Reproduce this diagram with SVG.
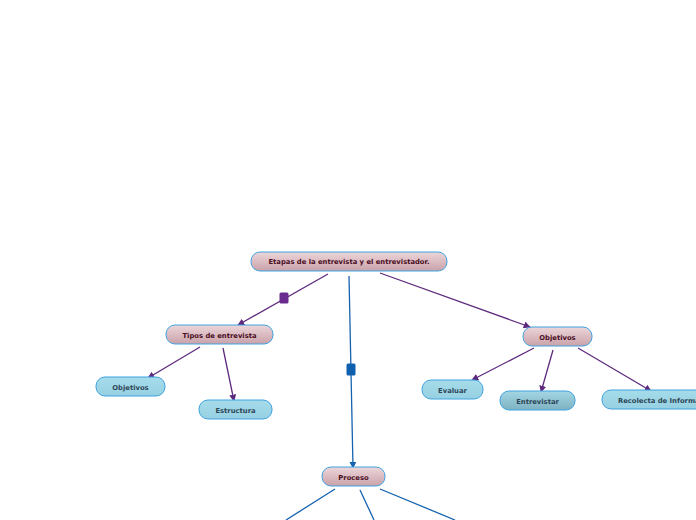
<svg xmlns="http://www.w3.org/2000/svg" width="696" height="520" viewBox="0 0 696 520">
<defs>
<linearGradient id="gp" x1="0" y1="0" x2="0" y2="1"><stop offset="0" stop-color="#ecd6da"/><stop offset="1" stop-color="#c9a2a9"/></linearGradient>
<linearGradient id="gb" x1="0" y1="0" x2="0" y2="1"><stop offset="0" stop-color="#a6dcea"/><stop offset="1" stop-color="#96d0e2"/></linearGradient>
<linearGradient id="gd" x1="0" y1="0" x2="0" y2="1"><stop offset="0" stop-color="#a4d6e4"/><stop offset="1" stop-color="#7eb2c2"/></linearGradient>
<marker id="ap" viewBox="0 0 10 10" refX="9" refY="5" markerWidth="7" markerHeight="7" orient="auto" markerUnits="userSpaceOnUse"><path d="M0,0 L10,5 L0,10 z" fill="#5e2a7e"/></marker>
<marker id="ab" viewBox="0 0 10 10" refX="9" refY="5" markerWidth="7" markerHeight="7" orient="auto" markerUnits="userSpaceOnUse"><path d="M0,0 L10,5 L0,10 z" fill="#1462b0"/></marker>
</defs>
<style>
.p rect{fill:url(#gp);stroke:#3ea2e0;stroke-width:1}
.b rect{fill:url(#gb);stroke:#3ea2e0;stroke-width:1}
.d rect{fill:url(#gd);stroke:#3ea2e0;stroke-width:1}
text{font-family:"DejaVu Sans",Verdana,sans-serif;font-weight:bold;font-size:6.8px;text-anchor:middle}
.p text{fill:#4a0c1e}
.b text,.d text{fill:#2c4656}
.cp{stroke:#5e2a7e;stroke-width:1.3;fill:none}
.cb{stroke:#1462b0;stroke-width:1.3;fill:none}
</style>
<g id="connectors">
<line class="cp" x1="328" y1="274" x2="238" y2="325" marker-end="url(#ap)"/>
<rect x="279.5" y="292.5" width="9" height="11" rx="1.5" fill="#6a2a90"/>
<line class="cb" x1="349" y1="276" x2="353" y2="468" marker-end="url(#ab)"/>
<rect x="346.5" y="363.5" width="9" height="12" rx="1.5" fill="#1060b0"/>
<line class="cp" x1="380" y1="273" x2="530" y2="327" marker-end="url(#ap)"/>
<line class="cp" x1="200" y1="347" x2="148" y2="378" marker-end="url(#ap)"/>
<line class="cp" x1="223" y1="348" x2="234" y2="401" marker-end="url(#ap)"/>
<line class="cp" x1="534" y1="348" x2="472" y2="380" marker-end="url(#ap)"/>
<line class="cp" x1="553" y1="350" x2="541" y2="392" marker-end="url(#ap)"/>
<line class="cp" x1="578" y1="348" x2="651" y2="391" marker-end="url(#ap)"/>
<line class="cb" x1="335" y1="489" x2="286" y2="520"/>
<line class="cb" x1="360" y1="490" x2="374" y2="520"/>
<line class="cb" x1="380" y1="489" x2="455" y2="520"/>
</g>
<g id="root" class="p"><rect x="251" y="252" width="196" height="19" rx="9"/><text x="349" y="264">Etapas de la entrevista y el entrevistador.</text></g>
<g id="tipos" class="p"><rect x="166" y="325" width="107" height="19" rx="9"/><text x="219.5" y="337.5">Tipos de entrevista</text></g>
<g id="objetivos1" class="b"><rect x="96" y="377" width="69" height="19" rx="9"/><text x="130.5" y="389.5">Objetivos</text></g>
<g id="estructura" class="b"><rect x="199" y="400" width="73" height="19" rx="9"/><text x="235.5" y="412.5">Estructura</text></g>
<g id="objetivos2" class="p"><rect x="523" y="327" width="69" height="19" rx="9"/><text x="557.5" y="339.5">Objetivos</text></g>
<g id="evaluar" class="b"><rect x="422" y="380" width="61" height="19" rx="9"/><text x="452.5" y="392.5">Evaluar</text></g>
<g id="entrevistar" class="d"><rect x="500" y="391" width="75" height="19" rx="9"/><text x="537.5" y="403.5">Entrevistar</text></g>
<g id="recolecta" class="b"><rect x="602" y="390" width="120" height="19" rx="9"/><text x="618" y="402.5" style="text-anchor:start">Recolecta de Información</text></g>
<g id="proceso" class="p"><rect x="322" y="467" width="63" height="19" rx="9"/><text x="353.5" y="479.5">Proceso</text></g>
</svg>
